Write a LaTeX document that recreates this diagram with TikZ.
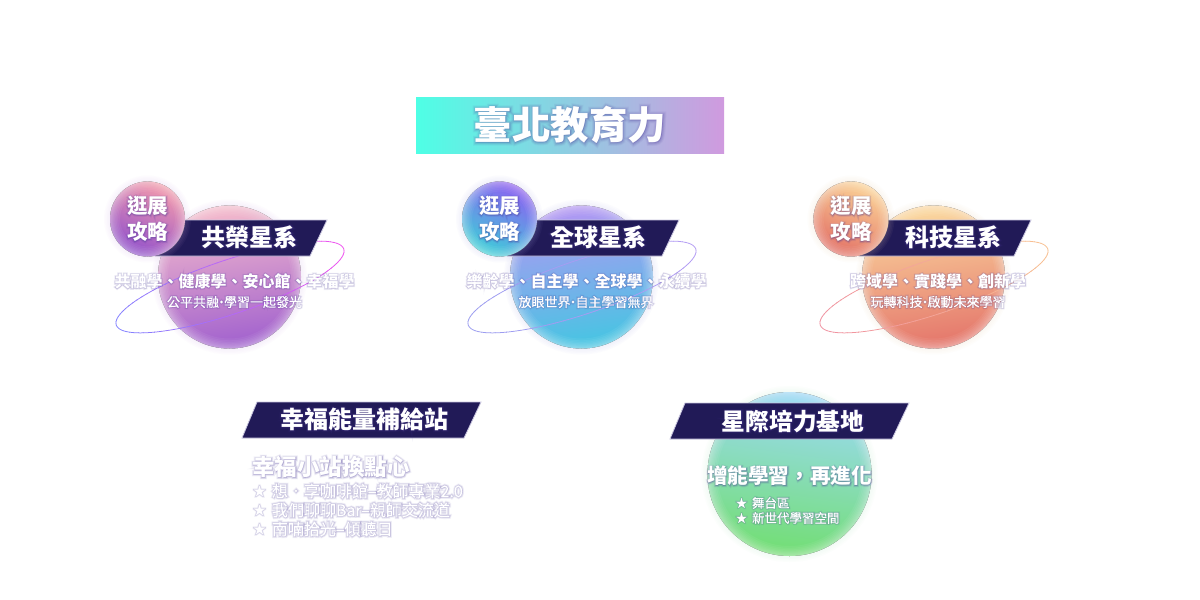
\documentclass[tikz,border=0pt]{standalone}
\usepackage{fontspec}
\usetikzlibrary{calc}
\setmainfont{Noto Sans CJK TC}
\newfontfamily\fB{Noto Sans CJK TC}[UprightFont=* Black]
\newfontfamily\fR{Noto Sans CJK TC}[FakeBold=0.5]
\newfontfamily\gBa{Noto Sans CJK TC}[UprightFont=* Black,FakeBold=6]
\newfontfamily\gBb{Noto Sans CJK TC}[UprightFont=* Black,FakeBold=11]
\newfontfamily\gBc{Noto Sans CJK TC}[UprightFont=* Black,FakeBold=16]
\newfontfamily\gRa{Noto Sans CJK TC}[FakeBold=9]
\newfontfamily\gRb{Noto Sans CJK TC}[FakeBold=16]
\newfontfamily\gRc{Noto Sans CJK TC}[FakeBold=23]
\definecolor{bannerdark}{HTML}{211A57}
\definecolor{bannerline}{HTML}{C9C6DF}
\definecolor{glowtext}{HTML}{4A3A9A}
\definecolor{titleA}{HTML}{4EFFE5}
\definecolor{titleB}{HTML}{D09ADF}
\tikzset{
  x=1pt,y=-1pt,
  banner/.style={fill=bannerdark,draw=bannerline,line width=0.8pt},
  txt/.style={inner sep=0pt,outer sep=0pt,text=white,align=center},
}
\newcommand{\dt}{\kern-4pt·\kern-4pt}
\newcommand{\glowtext}[6]{%
  \foreach \w/\op in {c/0.06,b/0.09,a/0.13}{%
    \node[inner sep=0pt,text=glowtext,opacity=\op,anchor=#1] at #2
      {\fontsize{#3}{#3}\selectfont\csname g#5\w\endcsname #4};}%
  \node[txt,anchor=#1] (#6) at #2 {\fontsize{#3}{#3}\selectfont\csname f#5\endcsname #4};}
\newcommand{\sphere}[8]{%
  \definecolor{spA}{HTML}{#3}\definecolor{spB}{HTML}{#4}\definecolor{spC}{HTML}{#5}\definecolor{spG}{HTML}{#6}%
  \foreach \k in {6,4.5,...,1.5}{%
    \fill[spG,opacity=0.045] #1 circle[radius=#2 pt+\k pt];}%
  \fill[top color=spA,middle color=spB,bottom color=spC,shading angle=#7] #1 circle[radius=#2 pt];%
  \coordinate (#8) at #1;%
  \foreach \k in {0.6,1.3,2.1,3,4,5.2,6.6,8.2,10}{%
    \fill[white,opacity=0.055,even odd rule] #1 circle[radius=#2 pt+0.3pt] #1 circle[radius=#2 pt-\k pt];}%
}
\newcommand{\ring}[3]{%
  \definecolor{rgA}{HTML}{#2}\definecolor{rgB}{HTML}{#3}%
  \begin{scope}[shift={#1},rotate=18.5]
  \foreach \t [evaluate=\t as \p using {100*(0.5+0.5*cos(\t))}, evaluate=\t as \tt using {\t+4.5}] in {0,4,...,356}{%
    \draw[line width=0.75pt,color={rgB!\p!rgA}] (\t:120pt and 27pt) arc[start angle=\t,end angle=\tt,x radius=120pt,y radius=27pt];}
  \end{scope}}
\newcommand{\bannerpoly}[5]{%
  \draw[banner] (#1,#4) -- (#2-17,#4) -- (#2,#3) -- (#1+15,#3) -- cycle;
  \coordinate (#5) at (#2,#3);}
\begin{document}
\begin{tikzpicture}
\useasboundingbox (0,0) rectangle (1200,600);
\fill[white] (0,0) rectangle (1200,600);
% title
\shade[left color=titleA,right color=titleB] (416,97) rectangle (724,153);
\glowtext{center}{(570,125)}{38.5}{臺北教育力}{B}{title}

% group 1
\sphere{(229.5,277)}{71.5}{F6BCCC}{E896B2}{A060CE}{E0B8E8}{8}{g1big}
\ring{(230,287)}{8080FF}{F050F0}
\bannerpoly{155}{327}{220}{256}{g1ban}
\sphere{(147.5,219)}{37.5}{F59CAC}{C677BC}{9050CC}{E0B8E8}{-25}{g1small}
\glowtext{center}{(147.5,206)}{20.5}{逛展}{B}{g1a}
\glowtext{center}{(147.5,232)}{20.5}{攻略}{B}{g1b}
\glowtext{center}{(249.5,237)}{24}{共榮星系}{B}{g1t}
\glowtext{center}{(234.5,281)}{16}{共融學、健康學、安心館、幸福學}{B}{g1l}
\glowtext{center}{(234.5,302)}{13}{公平共融\dt 學習一起發光}{R}{g1m}

% group 2
\sphere{(581.5,277)}{71.5}{B496F4}{7694F0}{44C6E2}{B8B8F4}{8}{g2big}
\ring{(582,287)}{9A9CF0}{B49CF4}
\bannerpoly{507}{679}{220}{256}{g2ban}
\sphere{(499.5,219)}{37.5}{8E5EF2}{6090EA}{3CD0D8}{B8B8F4}{-25}{g2small}
\glowtext{center}{(499.5,206)}{20.5}{逛展}{B}{g2a}
\glowtext{center}{(499.5,232)}{20.5}{攻略}{B}{g2b}
\glowtext{center}{(598,237)}{24}{全球星系}{B}{g2t}
\glowtext{center}{(586.5,281)}{16}{樂齡學、自主學、全球學、永續學}{B}{g2l}
\glowtext{center}{(586,302)}{13}{放眼世界\dt 自主學習無界}{R}{g2m}

% group 3
\sphere{(933.5,277)}{71.5}{FBDAA0}{F2A884}{E4746A}{F8D4B8}{8}{g3big}
\ring{(934,287)}{F090A0}{F8C090}
\bannerpoly{859}{1031}{220}{256}{g3ban}
\sphere{(851,219)}{37.5}{FBD498}{F2A080}{E27066}{F8D4B8}{-25}{g3small}
\glowtext{center}{(851,206)}{20.5}{逛展}{B}{g3a}
\glowtext{center}{(851,232)}{20.5}{攻略}{B}{g3b}
\glowtext{center}{(953,237)}{24}{科技星系}{B}{g3t}
\glowtext{center}{(938,281)}{16}{跨域學、實踐學、創新學}{B}{g3l}
\glowtext{center}{(938,302)}{13}{玩轉科技\dt 啟動未來學習}{R}{g3m}

% bottom left
\draw[banner] (242,438) -- (464,438) -- (481,402) -- (257,402) -- cycle;
\glowtext{center}{(364,419)}{24}{幸福能量補給站}{B}{h1}
\glowtext{west}{(252,467)}{22.5}{幸福小站換點心}{B}{h2}
\glowtext{center}{(259.5,491)}{12}{★}{R}{s1}
\glowtext{center}{(259.5,510)}{12}{★}{R}{s2}
\glowtext{center}{(259.5,529)}{12}{★}{R}{s3}
\glowtext{west}{(272,491)}{16}{想．享咖啡館–教師專業2.0}{R}{l1}
\glowtext{west}{(272,510)}{16}{我們聊聊Bar–親師交流道}{R}{l2}
\glowtext{west}{(272,529)}{16}{南喃拾光–傾聽日}{R}{l3}

% bottom right
\sphere{(789.5,474)}{82}{9CDAF7}{62C4BC}{72DE72}{BCECD0}{-8}{g4}
\draw[banner] (670,439) -- (892,439) -- (909,403) -- (685,403) -- cycle;
\glowtext{center}{(793,421)}{23.7}{星際培力基地}{B}{h3}
\glowtext{center}{(789.5,476)}{20.6}{增能學習，再進化}{B}{h4}
\glowtext{center}{(741.5,503)}{11}{★}{R}{s4}
\glowtext{center}{(741.5,518)}{11}{★}{R}{s5}
\glowtext{west}{(752,503)}{12.5}{舞台區}{R}{l4}
\glowtext{west}{(752,518)}{12.5}{新世代學習空間}{R}{l5}
\end{tikzpicture}
\end{document}
